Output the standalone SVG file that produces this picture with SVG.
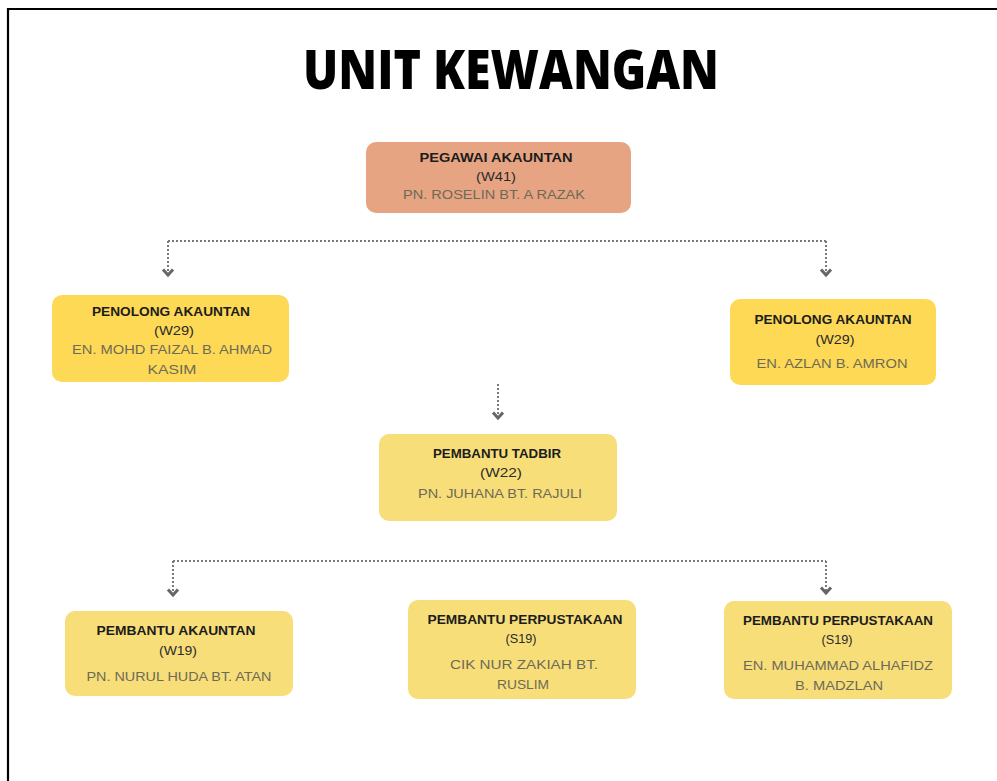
<svg xmlns="http://www.w3.org/2000/svg" width="997" height="781" viewBox="0 0 997 781">
<defs>
<style>
.t{font-family:"Liberation Sans",Arial,sans-serif;font-size:13px;font-weight:bold;fill:#1c1c1c;text-anchor:middle}
.g{font-family:"Liberation Sans",Arial,sans-serif;font-size:12.5px;fill:#2a2a2a;text-anchor:middle}
.n{font-family:"Liberation Sans",Arial,sans-serif;font-size:13px;fill:#6e6a58;text-anchor:middle}
.box1{fill:#E6A482}
.box2{fill:#FDD955}
.box3{fill:#F7DE78}
.ln{fill:none;stroke:#7a7a7a;stroke-width:2;stroke-dasharray:2 2}
</style>
<marker id="chev" viewBox="-9 -8 12 16" markerWidth="12" markerHeight="16" refX="0" refY="0" orient="auto" markerUnits="userSpaceOnUse">
<polyline points="-5.5,-5 0,0 -5.5,5" fill="none" stroke="#666" stroke-width="3"/>
</marker>
</defs>
<rect width="997" height="781" fill="#fff"/>
<path d="M8,781 V9 H997" fill="none" stroke="#000" stroke-width="2.2"/>
<text x="511" y="89" font-family="'Open Sans','Liberation Sans',sans-serif" font-size="54" font-weight="800" text-anchor="middle" textLength="416" lengthAdjust="spacingAndGlyphs" fill="#000">UNIT KEWANGAN</text>

<g id="connectors">
<path class="ln" d="M168,241 H826"/>
<path class="ln" d="M168,241 V275" marker-end="url(#chev)"/>
<path class="ln" d="M826,241 V275" marker-end="url(#chev)"/>
<path class="ln" d="M498,384 V418" marker-end="url(#chev)"/>
<path class="ln" d="M173,561 H826"/>
<path class="ln" d="M173,561 V595" marker-end="url(#chev)"/>
<path class="ln" d="M826,561 V593" marker-end="url(#chev)"/>
</g>

<g id="pegawai">
<rect class="box1" x="366" y="142" width="265" height="71" rx="10"/>
<text class="t" x="496" y="162" textLength="153" lengthAdjust="spacingAndGlyphs">PEGAWAI AKAUNTAN</text>
<text class="g" x="496" y="181" textLength="40" lengthAdjust="spacingAndGlyphs">(W41)</text>
<text class="n" x="494" y="199" textLength="182" lengthAdjust="spacingAndGlyphs" fill="#7d6454">PN. ROSELIN BT. A RAZAK</text>
</g>

<g id="penolong1">
<rect class="box2" x="52" y="295" width="237" height="87" rx="10"/>
<text class="t" x="171" y="316" textLength="158" lengthAdjust="spacingAndGlyphs">PENOLONG AKAUNTAN</text>
<text class="g" x="174" y="335" textLength="40" lengthAdjust="spacingAndGlyphs">(W29)</text>
<text class="n" x="172" y="354" textLength="200" lengthAdjust="spacingAndGlyphs">EN. MOHD FAIZAL B. AHMAD</text>
<text class="n" x="172" y="374" textLength="49" lengthAdjust="spacingAndGlyphs">KASIM</text>
</g>

<g id="penolong2">
<rect class="box2" x="730" y="299" width="206" height="86" rx="10"/>
<text class="t" x="833" y="324" textLength="157" lengthAdjust="spacingAndGlyphs">PENOLONG AKAUNTAN</text>
<text class="g" x="835" y="344" textLength="39" lengthAdjust="spacingAndGlyphs">(W29)</text>
<text class="n" x="832" y="368" textLength="151" lengthAdjust="spacingAndGlyphs">EN. AZLAN B. AMRON</text>
</g>

<g id="tadbir">
<rect class="box3" x="379" y="434" width="238" height="87" rx="10"/>
<text class="t" x="497" y="458" textLength="128" lengthAdjust="spacingAndGlyphs">PEMBANTU TADBIR</text>
<text class="g" x="501" y="477" textLength="42" lengthAdjust="spacingAndGlyphs">(W22)</text>
<text class="n" x="500" y="498" textLength="164" lengthAdjust="spacingAndGlyphs">PN. JUHANA BT. RAJULI</text>
</g>

<g id="akauntan">
<rect class="box3" x="65" y="611" width="228" height="85" rx="10"/>
<text class="t" x="176" y="635" textLength="159" lengthAdjust="spacingAndGlyphs">PEMBANTU AKAUNTAN</text>
<text class="g" x="178" y="655" textLength="38" lengthAdjust="spacingAndGlyphs">(W19)</text>
<text class="n" x="179" y="681" textLength="185" lengthAdjust="spacingAndGlyphs">PN. NURUL HUDA BT. ATAN</text>
</g>

<g id="perpustakaan1">
<rect class="box3" x="408" y="600" width="228" height="99" rx="10"/>
<text class="t" x="525" y="624" textLength="195" lengthAdjust="spacingAndGlyphs">PEMBANTU PERPUSTAKAAN</text>
<text class="g" x="521" y="643" textLength="31" lengthAdjust="spacingAndGlyphs">(S19)</text>
<text class="n" x="524" y="669" textLength="148" lengthAdjust="spacingAndGlyphs">CIK NUR ZAKIAH BT.</text>
<text class="n" x="523" y="689" textLength="52" lengthAdjust="spacingAndGlyphs">RUSLIM</text>
</g>

<g id="perpustakaan2">
<rect class="box3" x="724" y="601" width="228" height="98" rx="10"/>
<text class="t" x="838" y="625" textLength="190" lengthAdjust="spacingAndGlyphs">PEMBANTU PERPUSTAKAAN</text>
<text class="g" x="837" y="644" textLength="31" lengthAdjust="spacingAndGlyphs">(S19)</text>
<text class="n" x="838" y="670" textLength="190" lengthAdjust="spacingAndGlyphs">EN. MUHAMMAD ALHAFIDZ</text>
<text class="n" x="839" y="690" textLength="88" lengthAdjust="spacingAndGlyphs">B. MADZLAN</text>
</g>
</svg>
